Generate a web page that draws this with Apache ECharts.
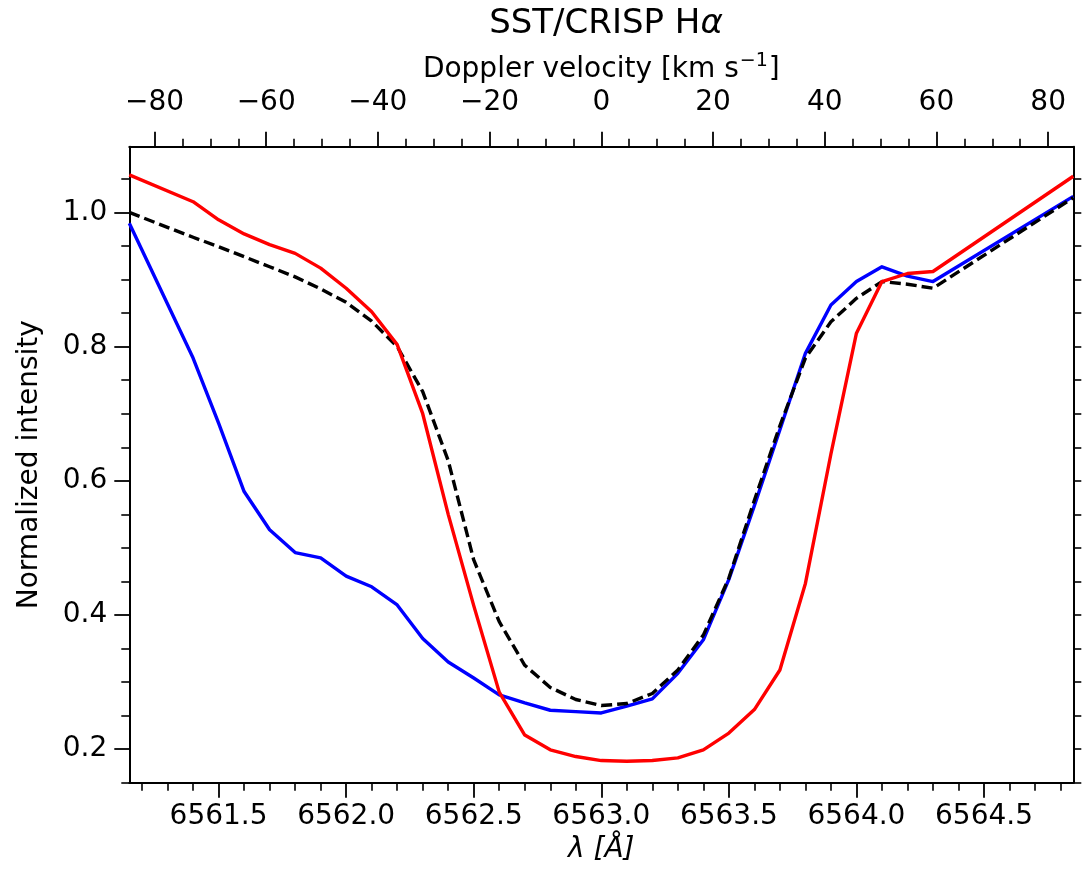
<!DOCTYPE html>
<html>
<head>
<meta charset="utf-8">
<title>SST/CRISP Halpha</title>
<script src="https://cdn.jsdelivr.net/npm/echarts@6/dist/echarts.min.js"></script>
<style>
  html, body { margin: 0; padding: 0; background: #fff; }
  #main { width: 1082px; height: 871px; }
</style>
</head>
<body>
<div id="main"></div>
<script>
// wavelength samples [A]
var lambda = [6561.15, 6561.40, 6561.50, 6561.60, 6561.70, 6561.80, 6561.90, 6562.00,
  6562.10, 6562.20, 6562.30, 6562.40, 6562.50, 6562.60, 6562.70, 6562.80, 6562.90,
  6563.00, 6563.10, 6563.20, 6563.30, 6563.40, 6563.50, 6563.60, 6563.70, 6563.80,
  6563.90, 6564.00, 6564.10, 6564.20, 6564.30, 6564.85];

// profiles (normalized intensity)
var redProfile = [1.056, 1.016, 0.989, 0.968, 0.952, 0.939, 0.917, 0.887, 0.852, 0.803,
  0.700, 0.550, 0.414, 0.285, 0.221, 0.199, 0.189, 0.183,
  0.182, 0.183, 0.187, 0.199, 0.224, 0.259, 0.318, 0.447, 0.640, 0.820, 0.897, 0.909, 0.912,
  1.054];
var blueProfile = [0.984, 0.783, 0.686, 0.584, 0.527, 0.493, 0.485, 0.458, 0.442, 0.415,
  0.365, 0.330, 0.306, 0.281, 0.269, 0.258, 0.256, 0.254,
  0.264, 0.275, 0.313, 0.363, 0.453, 0.563, 0.676, 0.790, 0.862, 0.897, 0.919, 0.905, 0.897,
  1.024];
var meanProfile = [1.000, 0.963, 0.949, 0.934, 0.919, 0.904, 0.886, 0.866, 0.838, 0.800,
  0.733, 0.630, 0.482, 0.390, 0.325, 0.292, 0.274, 0.265,
  0.268, 0.283, 0.318, 0.370, 0.455, 0.571, 0.682, 0.783, 0.837, 0.872, 0.897, 0.893, 0.887,
  1.022];

// axes
var lambdaMin = 6561.15, lambdaMax = 6564.85, lambda0 = 6563.0;
var yMin = 0.15, yMax = 1.098;
var lambdaTicks = [6561.5, 6562.0, 6562.5, 6563.0, 6563.5, 6564.0, 6564.5];
var velTicks = [-80, -60, -40, -20, 0, 20, 40, 60, 80];
var yTicks = [0.2, 0.4, 0.6, 0.8, 1.0];

var cLight = 299792.458;
var vMin = (lambdaMin - lambda0) / lambda0 * cLight;
var vMax = (lambdaMax - lambda0) / lambda0 * cLight;

// minor tick positions
function minors(from, to, step, majors) {
  var out = [];
  for (var i = Math.ceil(from / step - 1e-6); i * step <= to + 1e-9; i++) {
    var v = Math.round(i * step * 1000) / 1000;
    var isMajor = majors.some(function(m) { return Math.abs(m - v) < 1e-6; });
    if (!isMajor) out.push(v);
  }
  return out;
}
var lambdaMinor = minors(6561.2, 6564.8, 0.1, lambdaTicks);
var velMinor = minors(-80, 80, 5, velTicks);
var yMinor = minors(0.15, 1.05, 0.05, yTicks);
var yRight = minors(0.15, 1.05, 0.05, []);

function pairs(ys) {
  return lambda.map(function(x, i) { return [x, ys[i]]; });
}

var FONT = 'DejaVu Sans';
var lineCol = '#000';

function minorAxis(base) {
  return Object.assign({
    type: 'value',
    axisLine: { show: false, onZero: false },
    axisTick: { show: true, length: 8, lineStyle: { color: lineCol, width: 1.6 } },
    axisLabel: { show: false },
    splitLine: { show: false }
  }, base);
}

var chart = echarts.init(document.getElementById('main'));
var option = {
  animation: false,
  backgroundColor: '#fff',
  title: {
    text: 'SST/CRISP H{it|α}',
    left: 601,
    top: 2,
    textAlign: 'center',
    textStyle: {
      fontFamily: FONT, fontSize: 34, fontWeight: 'normal', color: '#000',
      rich: { it: { fontFamily: FONT, fontSize: 34, fontStyle: 'italic', color: '#000' } }
    }
  },
  grid: { left: 129.3, right: 8.7, top: 146.7, bottom: 88.3, containLabel: false },
  xAxis: [
    {
      type: 'value', position: 'bottom', min: lambdaMin, max: lambdaMax,
      name: 'λ [Å]', nameLocation: 'middle', nameGap: 52,
      nameTextStyle: { fontFamily: FONT, fontSize: 28, fontStyle: 'italic', color: '#000', verticalAlign: 'top' },
      axisLine: { show: true, onZero: false, lineStyle: { color: lineCol, width: 2 } },
      axisTick: { show: true, length: 15, customValues: lambdaTicks, lineStyle: { color: lineCol, width: 1.8 } },
      axisLabel: {
        customValues: lambdaTicks, margin: 20, fontFamily: FONT, fontSize: 28, color: '#000',
        formatter: function(v) { return v.toFixed(1); }
      },
      splitLine: { show: false }
    },
    minorAxis({ position: 'bottom', min: lambdaMin, max: lambdaMax, axisTick: { show: true, length: 8, customValues: lambdaMinor, lineStyle: { color: lineCol, width: 1.6 } } }),
    {
      type: 'value', position: 'top', min: vMin, max: vMax,
      name: '{n|Doppler velocity [km s}{sup|−1}{n|]}', nameLocation: 'middle', nameGap: 60,
      nameTextStyle: {
        fontFamily: FONT, fontSize: 28, color: '#000',
        rich: {
          n: { fontFamily: FONT, fontSize: 28, color: '#000', lineHeight: 30, verticalAlign: 'bottom' },
          sup: { fontFamily: FONT, fontSize: 19, color: '#000', lineHeight: 19, verticalAlign: 'bottom', padding: [0, 1, 13, 1] }
        }
      },
      axisLine: { show: true, onZero: false, lineStyle: { color: lineCol, width: 2 } },
      axisTick: { show: true, length: 15, customValues: velTicks, lineStyle: { color: lineCol, width: 1.8 } },
      axisLabel: {
        customValues: velTicks, margin: 30, fontFamily: FONT, fontSize: 28, color: '#000',
        formatter: function(v) { return String(Math.round(v)).replace('-', '\u2212'); }
      },
      splitLine: { show: false }
    },
    minorAxis({ position: 'top', min: vMin, max: vMax, axisTick: { show: true, length: 8, customValues: velMinor, lineStyle: { color: lineCol, width: 1.6 } } })
  ],
  yAxis: [
    {
      type: 'value', position: 'left', min: yMin, max: yMax,
      name: 'Normalized intensity', nameLocation: 'middle', nameGap: 86,
      nameTextStyle: { fontFamily: FONT, fontSize: 28, color: '#000' },
      axisLine: { show: true, onZero: false, lineStyle: { color: lineCol, width: 2 } },
      axisTick: { show: true, length: 15, customValues: yTicks, lineStyle: { color: lineCol, width: 1.8 } },
      axisLabel: {
        customValues: yTicks, margin: 22, fontFamily: FONT, fontSize: 28, color: '#000',
        formatter: function(v) { return v.toFixed(1); }
      },
      splitLine: { show: false }
    },
    minorAxis({ position: 'left', min: yMin, max: yMax, axisTick: { show: true, length: 8, customValues: yMinor, lineStyle: { color: lineCol, width: 1.6 } } }),
    {
      type: 'value', position: 'right', min: yMin, max: yMax,
      axisLine: { show: true, onZero: false, lineStyle: { color: lineCol, width: 2 } },
      axisTick: { show: true, length: 8, customValues: yRight, lineStyle: { color: lineCol, width: 1.6 } },
      axisLabel: { show: false },
      splitLine: { show: false }
    }
  ],
  series: [
    {
      name: 'blue', type: 'line', xAxisIndex: 0, yAxisIndex: 0, data: pairs(blueProfile),
      showSymbol: false, symbol: 'none',
      lineStyle: { color: '#0000ff', width: 3.4, join: 'round' }
    },
    {
      name: 'mean', type: 'line', xAxisIndex: 0, yAxisIndex: 0, data: pairs(meanProfile),
      showSymbol: false, symbol: 'none',
      lineStyle: { color: '#000000', width: 3.4, type: [11, 5], join: 'round' }
    },
    {
      name: 'red', type: 'line', xAxisIndex: 0, yAxisIndex: 0, data: pairs(redProfile),
      showSymbol: false, symbol: 'none',
      lineStyle: { color: '#ff0000', width: 3.4, join: 'round' }
    }
  ]
};
chart.setOption(option);
</script>
</body>
</html>
